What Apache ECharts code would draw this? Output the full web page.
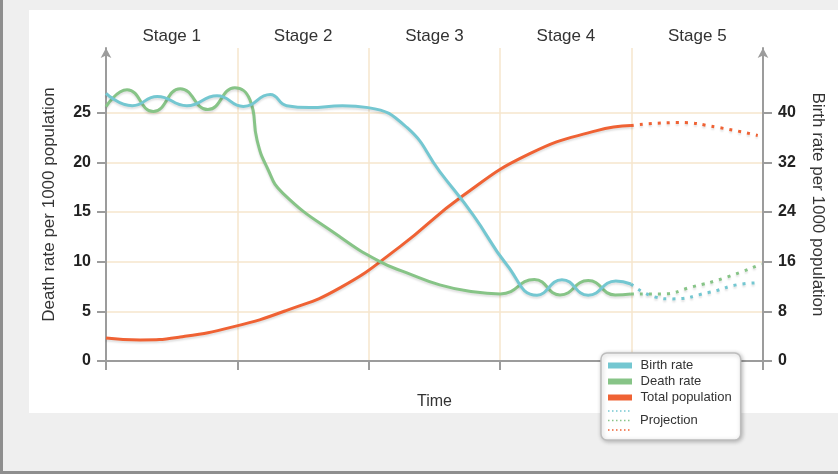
<!DOCTYPE html>
<html>
<head>
<meta charset="utf-8">
<script src="https://cdn.jsdelivr.net/npm/echarts@6/dist/echarts.min.js"></script>
<style>
html,body{margin:0;padding:0;background:#efefef;}
#chart{width:838px;height:474px;}
</style>
</head>
<body>
<div id="chart"></div>
<script>
// ---- data (x = time, 0..100 across five stages) ----
const stages = ['Stage 1', 'Stage 2', 'Stage 3', 'Stage 4', 'Stage 5'];
const deathTicks = [0, 5, 10, 15, 20, 25];
const birthTicks = [0, 8, 16, 24, 32, 40];

const birthX = [0, 4, 7.8, 12.3, 16.9, 20.9, 25, 27.5, 31, 36, 39.9, 45.8, 50.8, 55.9, 61.0, 65.6, 69.4, 73.4, 77.6, 79.9];
const birthY = [43.1, 41.1, 42.6, 41.1, 42.7, 41.0, 42.9, 41.1, 40.8, 41.1, 40.8, 37.6, 30.5, 23.5, 15.5, 10.6, 13.1, 10.6, 12.9, 12.4];
const birthProjX = [79.9, 83.6, 86.1, 91.6, 96.8, 99.5];
const birthProjY = [12.4, 10.3, 10.0, 11.0, 12.4, 12.6];

const deathX = [0, 3.2, 7.2, 11.3, 15.5, 19.6, 21.9, 23.0, 24.5, 26.9, 35.6, 41.7, 45.8, 50.8, 55.9, 60.0, 65.2, 69.1, 73.4, 77.5, 79.9];
const deathY = [25.6, 27.3, 25.1, 27.4, 25.3, 27.5, 26.3, 22.2, 19.5, 16.9, 12.5, 10.0, 8.87, 7.66, 6.96, 6.75, 8.2, 6.65, 8.1, 6.65, 6.75];
const deathProjX = [79.9, 84.6, 89.2, 94.2, 99.8];
const deathProjY = [6.75, 6.75, 7.46, 8.37, 9.78];

const popX = [0, 5.2, 11.3, 19.3, 27.5, 35.6, 44.7, 54.3, 64.5, 74.7, 79.9];
const popY = [2.32, 2.12, 2.42, 3.43, 5.1, 7.36, 11.49, 16.63, 20.87, 23.19, 23.69];
const popProjX = [79.9, 87.1, 93.2, 99.2];
const popProjY = [23.69, 24.0, 23.5, 22.7];

// ---- styling ----
const TEAL = '#74c7d1', GREEN = '#87c487', ORANGE = '#ef6234';
const AXIS = '#9c9c9c', GRIDC = '#f6e6cc';
const FONT = '"Liberation Sans", Arial, Helvetica, sans-serif';
const pairs = (xs, ys) => xs.map((x, i) => [x, ys[i]]);

function lineSeries(name, xs, ys, color, yIdx, dotted) {
  return {
    name: name, type: 'line', xAxisIndex: 0, yAxisIndex: yIdx,
    data: pairs(xs, ys), smooth: 0.5, showSymbol: false, silent: true,
    color: color, z: dotted ? 3 : 4,
    lineStyle: {
      color: color, width: 3,
      type: dotted ? [3, 6] : 'solid',
      shadowColor: 'rgba(0,0,0,0.12)', shadowBlur: 2, shadowOffsetY: 2
    }
  };
}

const chart = echarts.init(document.getElementById('chart'), null, {renderer: 'canvas'});
chart.setOption({
  backgroundColor: '#efefef',
  animation: false,
  textStyle: {fontFamily: FONT},
  grid: {left: 106, right: 75, top: 48, bottom: 113, containLabel: false},
  graphic: [
    {type: 'rect', z: -10, shape: {x: 29, y: 10, width: 809, height: 403}, style: {fill: '#ffffff'}},
    {type: 'rect', z: -10, shape: {x: 0, y: 0, width: 3, height: 474}, style: {fill: '#8e8e8e'}},
    {type: 'rect', z: -10, shape: {x: 0, y: 471, width: 838, height: 3}, style: {fill: '#8e8e8e'}},
    {type: 'line', z: 100, shape: {x1: 608, y1: 411, x2: 632, y2: 411}, style: {stroke: TEAL, lineWidth: 1.5, lineDash: [1.5, 2.5]}},
    {type: 'line', z: 100, shape: {x1: 608, y1: 420.5, x2: 632, y2: 420.5}, style: {stroke: GREEN, lineWidth: 1.5, lineDash: [1.5, 2.5]}},
    {type: 'line', z: 100, shape: {x1: 608, y1: 430, x2: 632, y2: 430}, style: {stroke: ORANGE, lineWidth: 1.5, lineDash: [1.5, 2.5]}},
    {type: 'text', z: 100, x: 640, y: 420.5, style: {text: 'Projection', fill: '#333', font: '13px ' + FONT, verticalAlign: 'middle'}}
  ],
  legend: {
    data: ['Birth rate', 'Death rate', 'Total population'],
    formatter: function (n) { return ' ' + n; },
    orient: 'vertical', left: 601, top: 353,
    padding: [6, 9, 36, 7],
    itemWidth: 24, itemHeight: 6, itemGap: 3, icon: 'rect',
    textStyle: {fontSize: 13, color: '#333', lineHeight: 13, fontFamily: FONT},
    backgroundColor: '#ffffff', borderColor: '#bdbdbd', borderWidth: 1.5, borderRadius: 6,
    shadowBlur: 4, shadowColor: 'rgba(0,0,0,0.25)', shadowOffsetX: 1, shadowOffsetY: 1,
    selectedMode: false
  },
  xAxis: [
    {
      type: 'value', min: 0, max: 100, interval: 20,
      name: 'Time', nameLocation: 'middle', nameGap: 33,
      nameTextStyle: {fontSize: 16, color: '#333'},
      axisLine: {show: true, lineStyle: {color: AXIS, width: 2}},
      axisTick: {show: true, length: 9, lineStyle: {color: AXIS, width: 2}},
      axisLabel: {show: false},
      splitLine: {show: true, lineStyle: {color: GRIDC, width: 1.5}}
    },
    {
      type: 'category', position: 'top', data: stages, boundaryGap: true,
      axisLine: {show: false}, axisTick: {show: false}, splitLine: {show: false},
      axisLabel: {fontSize: 17, color: '#333', margin: 3}
    }
  ],
  yAxis: [
    {
      type: 'value', min: 0, max: 31.5, position: 'left',
      name: 'Death rate per 1000 population', nameLocation: 'middle', nameGap: 48,
      nameTextStyle: {fontSize: 17, color: '#333'},
      axisLine: {show: true, symbol: ['none', 'arrow'], symbolSize: [8, 10], lineStyle: {color: AXIS, width: 2}},
      axisTick: {show: true, length: 9, customValues: deathTicks, lineStyle: {color: AXIS, width: 2}},
      axisLabel: {customValues: deathTicks, fontSize: 16, fontWeight: 'bold', color: '#222', margin: 15},
      splitLine: {show: true, lineStyle: {color: GRIDC, width: 1.5}}
    },
    {
      type: 'value', min: 0, max: 50.4, position: 'right',
      name: 'Birth rate per 1000 population', nameLocation: 'middle', nameGap: 46, nameRotate: -90,
      nameTextStyle: {fontSize: 17, color: '#333'},
      axisLine: {show: true, symbol: ['none', 'arrow'], symbolSize: [8, 10], lineStyle: {color: AXIS, width: 2}},
      axisTick: {show: true, length: 9, customValues: birthTicks, lineStyle: {color: AXIS, width: 2}},
      axisLabel: {customValues: birthTicks, fontSize: 16, fontWeight: 'bold', color: '#222', margin: 15},
      splitLine: {show: false}
    }
  ],
  series: [
    lineSeries('Total population', popX, popY, ORANGE, 0, false),
    lineSeries('Death rate', deathX, deathY, GREEN, 0, false),
    lineSeries('Birth rate', birthX, birthY, TEAL, 1, false),
    lineSeries('Population projection', popProjX, popProjY, ORANGE, 0, true),
    lineSeries('Death projection', deathProjX, deathProjY, GREEN, 0, true),
    lineSeries('Birth projection', birthProjX, birthProjY, TEAL, 1, true)
  ]
});
</script>
</body>
</html>
